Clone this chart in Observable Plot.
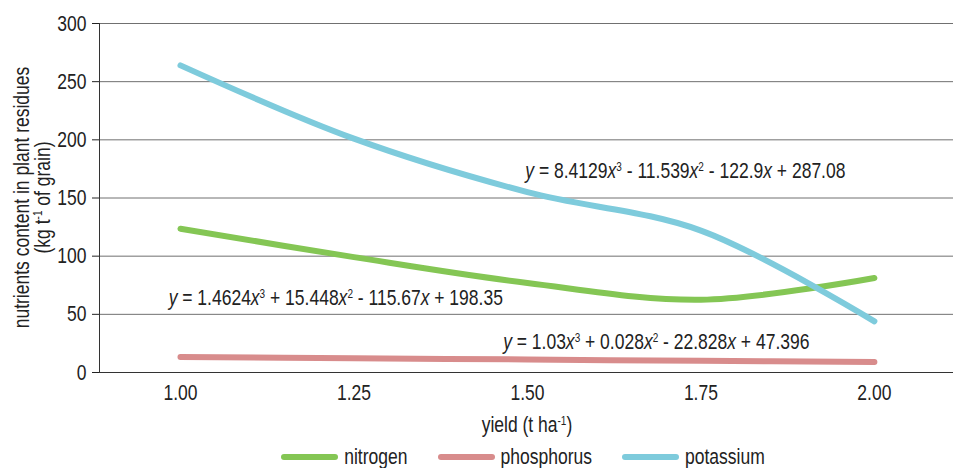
<!DOCTYPE html>
<html>
<head>
<meta charset="utf-8">
<script src="https://cdn.jsdelivr.net/npm/d3@7"></script>
<script src="https://cdn.jsdelivr.net/npm/@observablehq/plot@0.6"></script>
<style>
  html, body { margin: 0; padding: 0; background: #fff; overflow: hidden; }
  #legend { display: flex; justify-content: center; align-items: center; height: 34px;
    margin-left: 99px; width: 848px; font-family: 'Liberation Sans', Arial, sans-serif;
    font-size: 17.5px; color: #222; }
  .item { display: flex; align-items: center; margin: 0 15px; }
  .item span { display: inline-block; transform: scaleY(1.25); }
  .sw { width: 57px; height: 6px; border-radius: 3px; margin-right: 6px; }
</style>
</head>
<body>
<div id="chart"></div>
<div id="legend"></div>
<script>
// ---- data ----
const yields = [1.00, 1.25, 1.50, 1.75, 2.00];
const nitrogen = [123.6, 99.2, 77.0, 62.6, 81.2];
const phosphorus = [13.4, 12.2, 11.2, 10.0, 9.1];
const potassium = [264.0, 201.0, 155.0, 122.0, 44.0];
const seriesNames = ["nitrogen", "phosphorus", "potassium"];
const seriesColors = ["#84c654", "#d88c8c", "#7ecbdc"];
const xTicks = [1.00, 1.25, 1.50, 1.75, 2.00];
const yTicks = [0, 50, 100, 150, 200, 250, 300];
const xDomain = [0.8833, 2.114];
const yDomain = [0, 300];
const eqTexts = [
  "*y* = 8.4129*x*^{3} - 11.539*x*^{2} - 122.9*x* + 287.08",
  "*y* = 1.4624*x*^{3} + 15.448*x*^{2} - 115.67*x* + 198.35",
  "*y* = 1.03*x*^{3} + 0.028*x*^{2} - 22.828*x* + 47.396"
];
const eqX = [1.497, 0.983, 1.465];
const eqY = [173, 64, 26];
const xTitle = "yield (t ha^{-1})";
const yTitle1 = "nutrients content in plant residues";
const yTitle2 = "(kg t^{-1} of grain)";

const seriesValues = [nitrogen, phosphorus, potassium];
const data = seriesNames.flatMap((s, k) => yields.map((x, i) => ({x, y: seriesValues[k][i], s})));
const eqs = eqTexts.map((t, i) => ({t, x: eqX[i], y: eqY[i]}));

const FONT = "'Liberation Sans', Arial, sans-serif";

const chart = Plot.plot({
  width: 953, height: 440,
  marginLeft: 99, marginRight: 0, marginTop: 23, marginBottom: 68,
  x: {domain: xDomain},
  y: {domain: yDomain},
  color: {domain: seriesNames, range: seriesColors},
  style: {fontFamily: FONT, fontSize: "17.5px", color: "#222", background: "#fff"},
  marks: [
    Plot.gridY(yTicks, {stroke: "#707070", strokeOpacity: 1}),
    Plot.ruleY([yDomain[0]], {stroke: "#333"}),
    Plot.ruleX([xDomain[0]], {stroke: "#333"}),
    Plot.axisY(yTicks, {tickSize: 7, tickPadding: 6, label: null}),
    Plot.axisX(xTicks, {tickSize: 0, tickPadding: 14, tickFormat: d3.format(".2f"), label: null}),
    Plot.line(data, {x: "x", y: "y", z: "s", stroke: "s", curve: "catmull-rom", strokeWidth: 6, strokeLinecap: "round", strokeLinejoin: "round"}),
    Plot.text(eqs, {x: "x", y: "y", text: "t", textAnchor: "start", fill: "#222", className: "eq"})
  ]
});
document.getElementById("chart").appendChild(chart);

function rich(sel, str) {
  sel.text(null);
  const re = /\*([^*]+)\*|\^\{([^}]+)\}/g;
  let last = 0, m, shift = 0;
  const add = (t, attrs) => {
    const ts = sel.append("tspan").text(t);
    if (shift) { ts.attr("dy", -shift); shift = 0; }
    for (const k in attrs) ts.attr(k, attrs[k]);
    return ts;
  };
  while ((m = re.exec(str))) {
    if (m.index > last) add(str.slice(last, m.index), {});
    if (m[1] !== undefined) add(m[1], {"font-style": "italic"});
    else { add(m[2], {"font-size": 10, "dy": -6}); shift = -6; }
    last = re.lastIndex;
  }
  if (last < str.length) add(str.slice(last), {});
}

const svg = d3.select(chart);
svg.selectAll("g.eq text").each(function() {
  const s = d3.select(this);
  rich(s, s.text());
});

const xs = chart.scale("x"), ys = chart.scale("y");
const cy = (ys.apply(yDomain[0]) + ys.apply(yDomain[1])) / 2;
const yt1 = svg.append("text").attr("transform", `translate(27,${cy}) rotate(-90)`)
  .attr("text-anchor", "middle").attr("fill", "#222");
rich(yt1, yTitle1);
const yt2 = svg.append("text").attr("transform", `translate(48,${cy}) rotate(-90)`)
  .attr("text-anchor", "middle").attr("fill", "#222");
rich(yt2, yTitle2);
const xt = svg.append("text").attr("x", xs.apply(1.5)).attr("y", 431)
  .attr("text-anchor", "middle").attr("fill", "#222");
rich(xt, xTitle);

// stretch glyphs vertically (the reference type is tall and condensed)
svg.selectAll("text").each(function() {
  const b = this.getBBox();
  const cx = b.x + b.width / 2, cyy = b.y + b.height / 2;
  const t = this.getAttribute("transform") || "";
  this.setAttribute("transform", `${t} translate(${cx},${cyy}) scale(1,1.25) translate(${-cx},${-cyy})`);
});

const legend = d3.select("#legend");
seriesNames.forEach((n, i) => {
  const it = legend.append("div").attr("class", "item");
  it.append("div").attr("class", "sw").style("background", seriesColors[i]);
  it.append("span").text(n);
});
</script>
</body>
</html>
